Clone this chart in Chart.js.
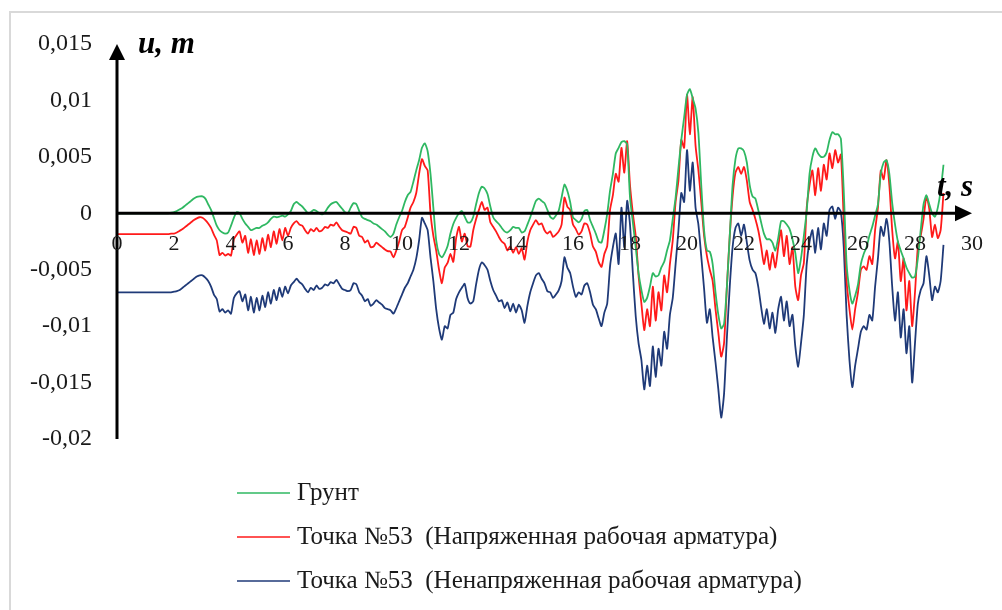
<!DOCTYPE html>
<html>
<head>
<meta charset="utf-8">
<script src="https://cdn.jsdelivr.net/npm/chart.js@4.4.1/dist/chart.umd.min.js"></script>
<style>
  html, body { margin: 0; background: #fff; }
  #wrap { width: 1002px; height: 610px; }
</style>
</head>
<body>
<div id="wrap"><canvas id="chart" width="1002" height="610"></canvas></div>
<script>
// sampling step of the records, s
const timeStep = 0.1;

// displacement, mm (one row = one second)
const gruntMm = [
  0, 0, 0, 0, 0, 0, 0, 0, 0, 0,
  0, 0, 0, 0, 0, 0, 0, 0, 0, 0.05,
  0.1, 0.2, 0.35, 0.5, 0.7, 0.9, 1.1, 1.3, 1.45, 1.5,
  1.5, 1.3, 0.8, 0.3, -0.4, -1.1, -1.5, -1.7, -1.8, -1.7,
  -1.1, -0.4, 0.1, 0, -0.5, -0.9, -1.2, -1.5, -1.4, -1.3,
  -1.3, -1.1, -1.0, -0.8, -0.5, -0.3, -0.35, -0.3, -0.2, -0.3,
  -0.1, 0.2, 0.8, 1.0, 0.8, 0.6, 0.3, 0, 0.1, 0.3,
  0.2, 0, -0.1, 0.1, 0.5, 0.8, 0.95, 1.0, 0.7, 0.4,
  0.1, 0, 0.5, 0.9, 0.8, 0.2, -0.35, -0.5, -0.6, -0.7,
  -0.9, -1.0, -1.2, -1.4, -1.6, -1.9, -2.1, -1.8, -1.0, -0.35,
  0.2, 1.0, 1.6, 1.9, 2.8, 3.8, 4.7, 5.8, 6.2, 5.5,
  3.5, 0.5, -2.4, -3.6, -3.9, -3.5, -2.9, -1.8, -0.95, -0.4,
  0, 0.2, -0.3, -0.8, -0.8, -0.3, 0.8, 1.8, 2.35, 2.2,
  1.7, 0.6, -0.35, -0.7, -0.95, -1.3, -1.6, -1.7, -1.5, -1.2,
  -1.3, -1.3, -1.7, -1.6, -1.0, -0.35, 0.4, 1.1, 1.3, 1.1,
  0.9, 0.3, -0.3, -0.5, -0.2, 0.25, 1.4, 2.55, 2.0, 1.0,
  -0.35, -0.6, -0.8, -0.5, 0.2, 0.3, -0.6, -1.2, -1.8, -2.5,
  -2.6, -1.5, -0.05, 2.0, 3.5, 5.3, 5.8, 6.3, 6.4, 6.1,
  1.4, -0.8, -3.0, -5.3, -6.8, -7.85, -7.5, -6.5, -5.3, -5.6,
  -5.5, -4.8, -4.3, -3.3, -2.4, -0.5, 1.4, 4.0, 6.5, 8.5,
  10.5, 11.0, 10.2, 9.3, 7.1, 2.5, -1.5, -3.3, -3.4, -4.5,
  -7.0, -9.0, -10.2, -9.8, -6.5, -2.0, 2.5, 4.8, 5.75, 5.75,
  5.5, 4.5, 2.5, 1.5, 1.3, 0.3, -0.8, -1.8, -2.3, -2.3,
  -2.6, -3.3, -2.2, -0.7, -0.7, -1.0, -1.4, -2.3, -3.5, -5.3,
  -4.0, -2.0, 0.2, 3.5, 5.0, 5.75, 5.3, 5.0, 5.0, 5.4,
  6.5, 7.2, 7.0, 7.0, 6.6, 2.0, -4.5, -6.8, -8.0, -7.3,
  -6.3, -4.5, -3.6, -3.0, -2.0, -1.2, -0.2, 0.8, 3.5, 4.5,
  4.7, 3.5, 0.9, -1.0, -2.5, -3.3, -4.0, -4.8, -5.3, -5.7,
  -5.6, -4.0, -1.5, 0.8, 1.6, 0.8, 0, -0.3, 0.5, 2.0,
  4.3
];

const tensMm = [
  -1.85, -1.85, -1.85, -1.85, -1.85, -1.85, -1.85, -1.85, -1.85, -1.85,
  -1.85, -1.85, -1.85, -1.85, -1.85, -1.85, -1.85, -1.85, -1.85, -1.8,
  -1.8, -1.7, -1.55, -1.4, -1.2, -1.0, -0.8, -0.6, -0.45, -0.35,
  -0.4, -0.6, -0.9, -1.3, -1.9, -2.4, -3.7, -3.5, -3.75, -3.6,
  -3.75, -2.3, -1.9, -1.6, -2.6, -2.0, -3.5, -2.3, -3.7, -2.4,
  -3.6, -2.2, -3.3, -1.9, -3.0, -1.6, -2.7, -1.4, -2.4, -1.3,
  -2.0, -1.3, -0.9, -0.7, -1.0, -1.1, -1.5, -1.8, -1.4, -1.6,
  -1.3, -1.6, -1.5, -1.2, -1.3, -1.0, -1.1, -0.8, -1.2, -1.5,
  -1.6, -1.7, -1.8, -1.2, -1.3, -2.0, -2.1, -2.6, -2.4, -3.0,
  -2.95, -2.6, -2.8, -3.0, -3.2, -3.35, -3.4, -3.9, -3.3, -2.5,
  -1.5, -1.2, -0.4, 0.5, 1.0, 1.8, 3.5, 4.8, 4.2, 3.8,
  0, -2.0, -3.3, -5.0, -6.2, -4.8, -4.4, -3.6, -4.3, -2.2,
  -1.2, -2.5, -1.8, -2.9, -2.95, -1.5, -0.5, 0.3, 1.0, 0.3,
  0.5, -0.8, -1.2, -1.6, -2.1, -2.5, -2.7, -3.3, -2.9, -3.5,
  -3.0, -3.6, -3.1, -4.1, -2.5, -1.5, -1.0, -0.6, -1.0, -0.9,
  -1.5, -1.8, -1.6, -2.1, -1.9, -1.6, -1.0, 1.4, 0.6, 0.3,
  -1.0, -1.4, -1.9, -1.6, -0.9, -1.0, -1.8, -2.95, -3.4, -4.3,
  -4.75, -3.6, -2.9, 0.3, 1.6, 3.5, 2.8, 5.8, 3.6, 6.4,
  2.5, 0, -2.0, -5.5, -8.0, -10.35, -8.5, -10.0, -6.5, -9.5,
  -7.0, -8.6, -5.5, -7.0, -4.5, -2.4, 1.0, 2.9, 6.5, 5.8,
  10.5, 7.0, 10.3, 6.0, 3.8, 1.0, -2.0, -3.8, -5.0, -6.0,
  -8.5, -10.6, -12.7, -11.5, -6.5, -2.0, 1.5, 3.6, 4.1, 3.5,
  4.1, 2.9, 1.0, 0.3, -0.5, -1.5, -2.9, -4.5, -3.3, -5.0,
  -3.5, -4.8, -3.0, -1.5, -3.8, -2.0, -4.5, -3.0, -6.5, -7.7,
  -5.5, -4.4, 0.5, 2.5, 3.8, 1.6, 4.0, 2.0, 4.3, 3.0,
  5.3, 4.0, 5.6, 4.5, 5.2, -0.6, -6.0, -8.5, -10.3, -8.5,
  -7.0, -5.0, -4.7, -5.0, -3.8, -4.5, -1.5, 0.5, 3.8, 3.0,
  4.7, 2.5, -1.5, -4.0, -2.5, -6.0, -4.0, -8.6, -6.0, -10.0,
  -7.0, -3.0, -2.0, -0.5, 1.5, 0.4, -2.1, -1.0, -2.2, -1.5,
  1.8
];

const plainMm = [
  -7.0, -7.0, -7.0, -7.0, -7.0, -7.0, -7.0, -7.0, -7.0, -7.0,
  -7.0, -7.0, -7.0, -7.0, -7.0, -7.0, -7.0, -7.0, -7.0, -7.0,
  -6.95, -6.9, -6.8, -6.6, -6.4, -6.2, -6.0, -5.8, -5.6, -5.5,
  -5.5, -5.7, -6.0, -6.5, -7.2, -7.6, -8.7, -8.5, -8.8, -8.6,
  -8.9, -7.5, -7.1, -6.9, -7.8, -7.2, -8.6, -7.4, -8.8, -7.5,
  -8.6, -7.3, -8.3, -7.0, -8.0, -6.8, -7.7, -6.6, -7.4, -6.5,
  -7.1, -6.4, -6.1, -5.8, -6.1, -6.3, -6.7, -7.0, -6.6, -6.8,
  -6.4, -6.7, -6.6, -6.3, -6.4, -6.1, -6.2, -5.9, -6.3, -6.7,
  -6.8, -6.9, -6.8, -6.2, -6.3, -7.0, -7.3, -7.8, -7.6, -8.2,
  -8.0, -7.7, -7.9, -8.1, -8.4, -8.5, -8.6, -8.9, -8.4, -7.8,
  -7.2, -6.6, -6.2, -5.6, -5.0, -4.0, -2.4, -0.4, -0.9, -1.5,
  -3.9, -6.0, -8.5, -10.2, -11.2, -10.0, -10.2, -9.0, -8.8, -7.6,
  -7.0, -6.6, -6.25, -7.5, -8.0, -7.8, -6.3, -5.0, -4.35, -4.6,
  -5.0, -6.0, -6.8, -7.3, -7.8, -7.7, -8.4, -7.9, -8.7, -8.0,
  -8.8, -8.1, -8.6, -9.7, -8.2, -7.0, -6.2, -5.5, -5.3, -5.8,
  -6.2, -6.9, -7.0, -7.5, -7.2, -6.8, -6.0, -3.9, -4.8, -5.3,
  -6.5, -7.4, -7.0, -7.2, -6.4, -6.2, -7.0, -8.1, -8.5, -9.3,
  -10.0, -8.8, -8.0, -4.7, -3.0, -1.8, -4.5, 0.5, -3.0, 1.1,
  -1.0, -5.3, -9.1, -11.5, -13.0, -15.6, -13.5, -15.3, -11.8, -14.5,
  -12.0, -13.5, -10.5, -12.0, -9.0, -7.5, -4.5, -1.5, 1.8, 1.0,
  5.6, 2.0, 4.5, 0.5, -1.0, -3.8, -6.7, -9.7, -8.5, -11.0,
  -13.2, -15.6, -18.1, -16.0, -11.0, -6.5, -3.0, -1.3, -0.9, -2.0,
  -1.0, -2.6, -4.2, -5.0, -5.3, -6.5, -8.3, -9.8, -8.5, -10.2,
  -8.8, -10.6, -8.5, -7.4, -9.5, -7.8, -10.0, -9.0, -11.8, -13.6,
  -11.5, -9.0, -4.5, -2.5, -1.5, -3.5, -1.3, -3.2, -0.9, -2.0,
  0.3, 0.6, -0.5, 0.5, 0.1, -3.0, -9.0, -13.0, -15.4, -13.5,
  -12.0, -10.5, -10.0, -10.3, -9.0, -9.5, -6.5, -4.0, -1.2, -2.0,
  -0.5, -2.5, -6.5, -9.5, -7.0, -11.0, -8.5, -12.4, -10.0, -15.0,
  -11.5, -8.0, -6.8, -6.2, -3.8, -5.5, -7.7, -6.5, -7.0, -6.0,
  -2.8
];

const xTicks = [0, 2, 4, 6, 8, 10, 12, 14, 16, 18, 20, 22, 24, 26, 28, 30];
const seriesNames = [
  "Грунт",
  "Точка №53  (Напряженная рабочая арматура)",
  "Точка №53  (Ненапряженная рабочая арматура)",
];
const seriesColors = ["#2fb862", "#ff1a1a", "#1f3a78"];

const FONT = "'Liberation Serif', 'Times New Roman', serif";

//points in metres
function toPoints(arr) {
  return arr.map((v, i) => ({ x: Math.round(i * timeStep * 10) / 10, y: v / 1000 }));
}

const decor = {
  id: "decor",
  beforeDraw(chart) {
    const ctx = chart.ctx;
    ctx.save();
    ctx.fillStyle = "#fff";
    ctx.fillRect(0, 0, chart.width, chart.height);
    ctx.strokeStyle = "#d9d9d9";
    ctx.lineWidth = 2;
    ctx.strokeRect(10, 12, chart.width + 20, chart.height + 20);
    ctx.restore();
  },
  afterDraw(chart) {
    const ctx = chart.ctx;
    const xs = chart.scales.x;
    const ys = chart.scales.y;
    const x0 = xs.getPixelForValue(0);
    const xEnd = xs.getPixelForValue(30);
    const y0 = ys.getPixelForValue(0);
    const yTop = ys.getPixelForValue(0.015);
    const yBot = ys.getPixelForValue(-0.02);
    ctx.save();
    ctx.strokeStyle = "#000";
    ctx.fillStyle = "#000";
    ctx.lineWidth = 3;
    // axes
    ctx.beginPath();
    ctx.moveTo(x0 - 1.5, y0);
    ctx.lineTo(xEnd - 12, y0);
    ctx.moveTo(x0, yBot);
    ctx.lineTo(x0, yTop + 12);
    ctx.stroke();
    ctx.beginPath();
    ctx.moveTo(xEnd, y0);
    ctx.lineTo(xEnd - 17, y0 - 8);
    ctx.lineTo(xEnd - 17, y0 + 8);
    ctx.closePath();
    ctx.moveTo(x0, yTop);
    ctx.lineTo(x0 - 8, yTop + 16);
    ctx.lineTo(x0 + 8, yTop + 16);
    ctx.closePath();
    ctx.fill();

    // x tick labels under the zero line
    ctx.font = "22px " + FONT;
    ctx.fillStyle = "#1a1a1a";
    ctx.textAlign = "center";
    ctx.textBaseline = "middle";
    xTicks.forEach((t) => {
      ctx.fillText(String(t), xs.getPixelForValue(t), y0 + 31);
    });

    // axis names
    ctx.fillStyle = "#000";
    ctx.font = "italic bold 31px " + FONT;
    ctx.textAlign = "left";
    ctx.fillText("u, m", x0 + 21, yTop + 1);
    ctx.fillText("t, s", xEnd - 35, y0 - 25);

    // legend
    ctx.font = "25px " + FONT;
    ctx.fillStyle = "#1a1a1a";
    chart.data.datasets.forEach((ds, i) => {
      const ly = 493 + i * 44;
      ctx.strokeStyle = ds.borderColor;
      ctx.lineWidth = 1.5;
      ctx.beginPath();
      ctx.moveTo(237, ly);
      ctx.lineTo(290, ly);
      ctx.stroke();
      ctx.fillText(ds.label, 297, ly);
    });
    ctx.restore();
  },
};

const datasets = [gruntMm, tensMm, plainMm].map((arr, i) => ({
  label: seriesNames[i],
  data: toPoints(arr),
  borderColor: seriesColors[i],
  borderWidth: 1.8,
  pointRadius: 0,
  fill: false,
  tension: 0.2,
}));

const config = {
  type: "line",
  data: { datasets: datasets },
  options: {
    responsive: false,
    animation: false,
    layout: { padding: { left: 0, top: 44, right: 30, bottom: 171 } },
    plugins: { legend: { display: false }, tooltip: { enabled: false } },
    scales: {
      x: { type: "linear", min: 0, max: 30, display: false },
      y: {
        min: -0.02,
        max: 0.015,
        grid: { display: false, drawTicks: false },
        border: { display: false },
        afterFit(scale) {
          scale.width = 117;
        },
        ticks: {
          stepSize: 0.005,
          padding: 25,
          color: "#1a1a1a",
          font: { family: FONT, size: 24 },
          callback: (v) => String(Number(v.toFixed(3))).replace(".", ","),
        },
      },
    },
  },
  plugins: [decor],
};

const myChart = new Chart(document.getElementById("chart"), config);
</script>
</body>
</html>
